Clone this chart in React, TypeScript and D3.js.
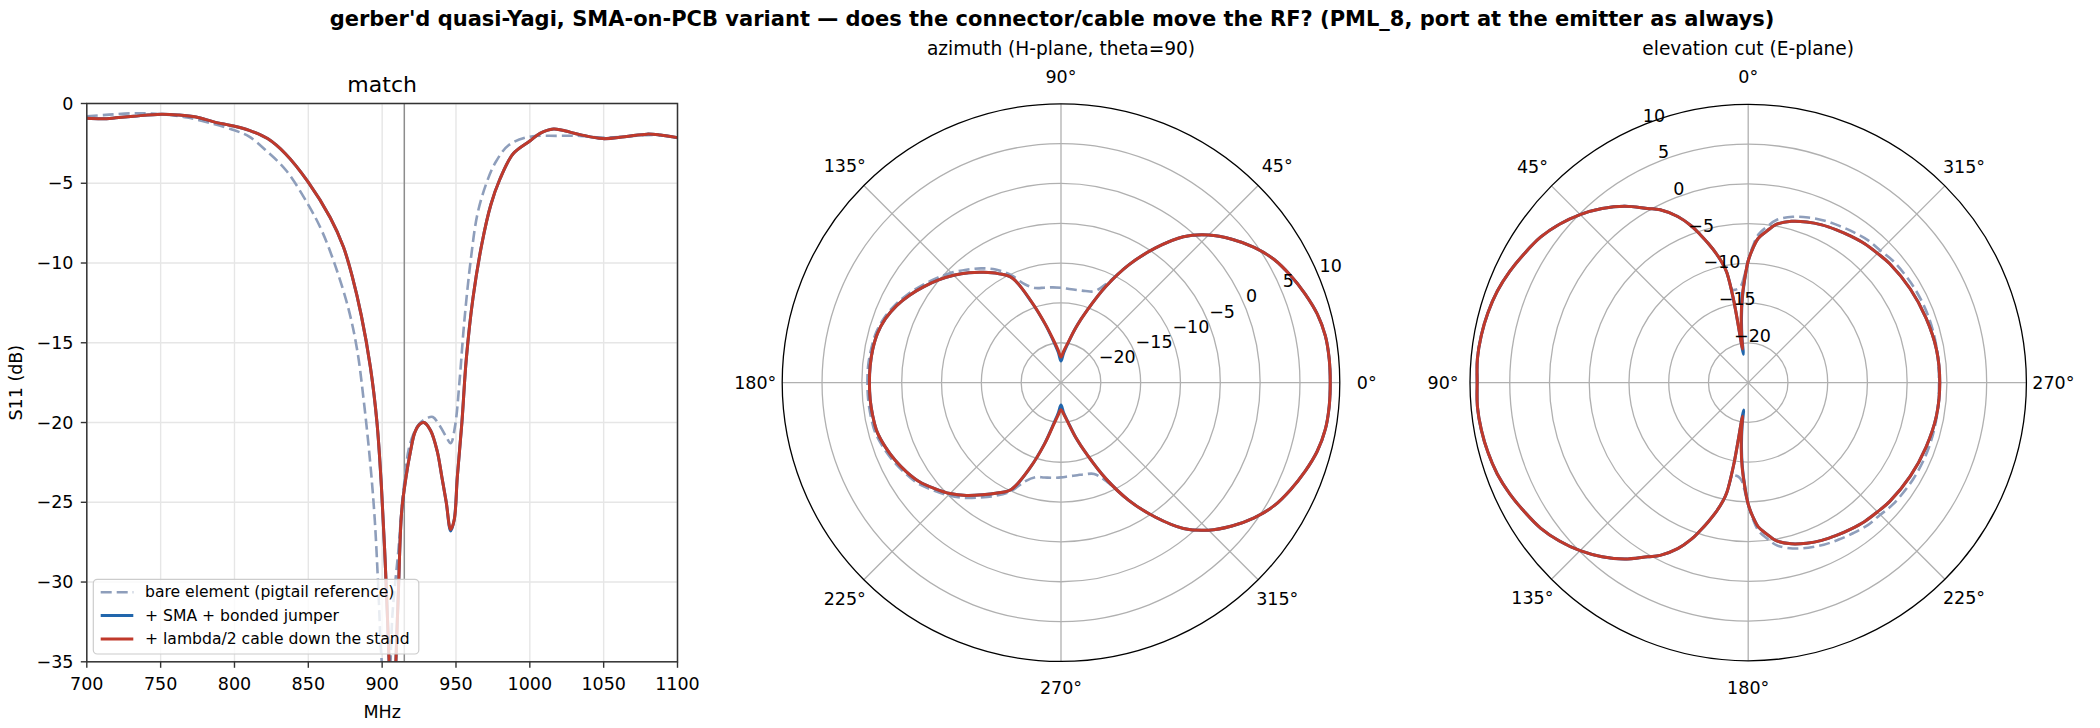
import React from "react";
import * as d3 from "d3";

const W = 2100;
const H = 728;

// ---------------- data ----------------
const FREQ_BARE = [700, 715, 732, 750, 768, 786, 800, 810, 822, 835, 850, 859, 868, 877, 883, 887.5, 892, 895, 897.5, 899.5, 902.5, 905, 907, 911, 914.7, 919, 925, 931, 934.3, 939, 943.4, 946.4, 949.4, 952.5, 955.5, 960, 964.6, 970.6, 976.7, 985.8, 1000, 1019, 1034, 1049, 1064, 1079, 1090, 1100];
const S11_BARE = [-0.8, -0.7, -0.61, -0.67, -0.88, -1.28, -1.68, -2.08, -3.0, -4.2, -6.35, -7.95, -10.1, -12.8, -15.4, -18.6, -22.6, -26.1, -30.6, -34.7, -37.5, -36, -32, -28, -24, -21.3, -20.1, -19.7, -19.65, -20.2, -20.9, -21.3, -20.2, -17.3, -13.8, -9.8, -6.9, -5.0, -3.7, -2.6, -2.08, -2.03, -2.03, -2.14, -2.08, -1.98, -2.0, -2.16];

const FREQ_SMA = [700, 710.6, 719.7, 731.7, 750.5, 762, 774, 786, 799.5, 810, 822.4, 834.5, 849.7, 864.8, 873.8, 879.9, 885.9, 892, 896.5, 899.5, 901.7, 903.5, 904.7, 907, 909.3, 911, 913.2, 916.2, 919.2, 922.2, 925.5, 928.3, 932.8, 937.3, 940.4, 943.4, 946.4, 948.8, 950.9, 954, 957, 961.5, 967.6, 973.6, 979.7, 988.7, 1000, 1006.9, 1016, 1022, 1034, 1049.2, 1064.3, 1079.4, 1088.5, 1100];
const S11_SMA = [-0.93, -0.96, -0.9, -0.8, -0.67, -0.72, -0.85, -1.15, -1.41, -1.68, -2.2, -3.15, -4.9, -7.15, -9.0, -10.9, -13.3, -16.5, -20, -24, -28, -32, -35, -42, -35, -30.6, -25.6, -23.4, -21.8, -20.6, -20.1, -20.0, -20.5, -21.8, -23.4, -25.0, -26.8, -26.1, -23.4, -20, -16, -12.2, -8.76, -6.35, -4.75, -3.15, -2.35, -1.87, -1.6, -1.68, -1.95, -2.2, -2.08, -1.92, -1.98, -2.14];

const FREQ_CABLE = [700, 710.6, 719.7, 731.7, 750.5, 762, 774, 786, 799.5, 810, 822.4, 834.5, 849.7, 864.8, 873.8, 879.9, 885.9, 892, 896.5, 899.5, 901.7, 903.5, 904.7, 907, 909.3, 911, 913.2, 916.2, 919.2, 922.2, 925.5, 928.3, 932.8, 937.3, 940.4, 943.4, 946.4, 948.8, 950.9, 954, 957, 961.5, 967.6, 973.6, 979.7, 988.7, 1000, 1006.9, 1016, 1022, 1034, 1049.2, 1064.3, 1079.4, 1088.5, 1100];
const S11_CABLE = [-0.93, -0.96, -0.9, -0.8, -0.67, -0.72, -0.85, -1.15, -1.41, -1.68, -2.2, -3.15, -4.9, -7.15, -9.0, -10.9, -13.3, -16.5, -20, -24, -28, -32, -35, -41, -35, -30.6, -25.6, -23.4, -21.8, -20.6, -20.1, -20.0, -20.5, -21.8, -23.4, -25.0, -26.7, -26.1, -23.4, -20, -16, -12.2, -8.76, -6.35, -4.75, -3.15, -2.35, -1.87, -1.6, -1.68, -1.95, -2.2, -2.08, -1.92, -1.98, -2.14];

const MARKER_MHZ = 915;
const X_TICKS = [700, 750, 800, 850, 900, 950, 1000, 1050, 1100];
const Y_TICKS = [0, -5, -10, -15, -20, -25, -30, -35];

const LEGEND_LABELS = ["bare element (pigtail reference)", "+ SMA + bonded jumper", "+ lambda/2 cable down the stand"];

// azimuth (deg, CCW from east)
const AZ_ANG = [0, 5, 10, 15, 20, 25, 30, 35, 40, 45, 50, 55, 60, 65, 70, 75, 80, 85, 90, 95, 100, 105, 110, 115, 120, 125, 130, 135, 140, 145, 150, 155, 160, 165, 170, 175, 180, 185, 190, 195, 200, 205, 210, 215, 220, 225, 230, 235, 240, 245, 250, 255, 260, 265, 270, 275, 280, 285, 290, 295, 300, 305, 310, 315, 320, 325, 330, 335, 340, 345, 350, 355];
const AZ_BARE = [8.8, 8.8, 8.7, 8.3, 7.6, 6.8, 5.9, 4.6, 3.0, 1.2, -1.1, -4.4, -7.9, -11.2, -12.8, -13.1, -13.2, -13.2, -13.1, -13.0, -12.9, -12.7, -11.9, -10.1, -8.6, -7.5, -6.5, -5.5, -4.6, -3.7, -2.8, -2.0, -1.35, -0.95, -0.8, -0.7, -0.7, -0.7, -0.75, -0.85, -1.25, -1.75, -2.35, -3.0, -4.0, -5.0, -6.1, -7.4, -8.6, -9.9, -11.8, -12.7, -12.9, -13.0, -13.1, -13.2, -13.2, -13.1, -12.8, -11.2, -7.9, -4.4, -1.1, 1.2, 3.0, 4.6, 5.9, 6.8, 7.6, 8.3, 8.7, 8.8];
const AZ_SMA = [8.8, 8.8, 8.7, 8.3, 7.6, 6.8, 5.9, 4.6, 3.0, 1.2, -1.1, -4.4, -7.9, -11.7, -15.3, -17.9, -20.0, -21.3, -22.3, -21.2, -19.8, -17.5, -14.3, -10.5, -9.2, -8.1, -7.0, -5.95, -4.95, -4.0, -3.05, -2.2, -1.55, -1.15, -1.0, -0.95, -0.95, -0.95, -1.0, -1.1, -1.5, -2.0, -2.6, -3.3, -4.3, -5.3, -6.5, -7.8, -9.0, -10.2, -13.6, -17.1, -19.8, -21.2, -22.2, -21.2, -20.0, -17.9, -15.3, -11.7, -7.9, -4.4, -1.1, 1.2, 3.0, 4.6, 5.9, 6.8, 7.6, 8.3, 8.7, 8.8];
const AZ_CABLE = [8.8, 8.8, 8.7, 8.3, 7.6, 6.8, 5.9, 4.6, 3.0, 1.2, -1.1, -4.4, -7.9, -11.7, -15.3, -17.9, -19.9, -21.0, -21.8, -20.9, -19.6, -17.4, -14.2, -10.5, -9.2, -8.1, -7.0, -5.95, -4.95, -4.0, -3.05, -2.2, -1.55, -1.15, -1.0, -0.95, -0.95, -0.95, -1.0, -1.1, -1.5, -2.0, -2.6, -3.3, -4.3, -5.3, -6.5, -7.8, -9.0, -10.2, -13.6, -17.0, -19.6, -20.9, -21.6, -21.0, -19.9, -17.9, -15.3, -11.7, -7.9, -4.4, -1.1, 1.2, 3.0, 4.6, 5.9, 6.8, 7.6, 8.3, 8.7, 8.8];

// elevation cut (deg, CCW from north)
const EL_ANG = [0, 2, 4, 6, 8, 9.5, 10, 11, 12, 14, 16, 18, 20, 23, 27, 30, 35, 40, 45, 50, 55, 60, 65, 70, 75, 80, 85, 90, 95, 100, 105, 110, 115, 120, 125, 130, 135, 140, 145, 150, 153, 157, 160, 162, 164, 166, 168, 169, 170, 170.5, 172, 174, 176, 178, 180, 182, 184, 187, 190, 195, 200, 205, 210, 215, 220, 225, 230, 240, 250, 260, 270, 280, 290, 300, 310, 315, 320, 325, 330, 335, 340, 345, 350, 353, 356, 358];
const EL_BARE = [-9.6, -11.5, -12.7, -13.1, -13.2, -13.2, -13.1, -10.9, -9.8, -8.2, -6.8, -5.4, -4.0, -2.3, -0.6, 0.3, 2.1, 3.6, 4.9, 6.0, 6.9, 7.5, 8.1, 8.6, 8.9, 9.1, 9.2, 9.1, 9.2, 9.1, 8.9, 8.6, 8.1, 7.5, 6.9, 6.0, 4.9, 3.6, 2.1, 0.3, -0.6, -2.3, -4.0, -5.4, -6.8, -8.2, -9.8, -10.9, -13.1, -13.2, -13.2, -13.1, -12.7, -11.5, -9.6, -7.8, -6.3, -5.2, -4.2, -3.4, -2.9, -2.5, -2.2, -1.9, -1.6, -1.5, -1.2, -0.95, -0.85, -0.9, -1.0, -0.9, -0.85, -0.95, -1.2, -1.5, -1.6, -1.9, -2.2, -2.5, -2.9, -3.4, -4.2, -5.2, -6.3, -7.8];
const EL_SMA = [-9.7, -12.1, -14.4, -16.9, -19.5, -21.4, -14.6, -10.9, -9.8, -8.2, -6.8, -5.4, -4.0, -2.3, -0.6, 0.3, 2.1, 3.6, 4.9, 6.0, 6.9, 7.5, 8.1, 8.6, 8.9, 9.1, 9.2, 9.1, 9.2, 9.1, 8.9, 8.6, 8.1, 7.5, 6.9, 6.0, 4.9, 3.6, 2.1, 0.3, -0.6, -2.3, -4.0, -5.4, -6.8, -8.2, -9.8, -10.9, -14.6, -21.5, -19.5, -16.9, -14.4, -12.1, -9.7, -8.1, -6.8, -5.8, -4.8, -4.0, -3.5, -3.1, -2.8, -2.5, -2.2, -2.0, -1.75, -1.45, -1.2, -0.95, -0.9, -0.95, -1.2, -1.45, -1.75, -2.0, -2.2, -2.5, -2.8, -3.1, -3.5, -4.0, -4.8, -5.8, -6.8, -8.1];
const EL_CABLE = [-9.7, -12.0, -14.2, -16.6, -19.0, -20.7, -14.5, -10.9, -9.8, -8.2, -6.8, -5.4, -4.0, -2.3, -0.6, 0.3, 2.1, 3.6, 4.9, 6.0, 6.9, 7.5, 8.1, 8.6, 8.9, 9.1, 9.2, 9.1, 9.2, 9.1, 8.9, 8.6, 8.1, 7.5, 6.9, 6.0, 4.9, 3.6, 2.1, 0.3, -0.6, -2.3, -4.0, -5.4, -6.8, -8.2, -9.8, -10.9, -14.5, -20.7, -19.0, -16.6, -14.2, -12.0, -9.7, -8.1, -6.8, -5.8, -4.8, -4.0, -3.5, -3.1, -2.8, -2.5, -2.2, -2.0, -1.75, -1.45, -1.2, -0.95, -0.9, -0.95, -1.2, -1.45, -1.75, -2.0, -2.2, -2.5, -2.8, -3.1, -3.5, -4.0, -4.8, -5.8, -6.8, -8.1];

const THETA_TICKS = [0, 45, 90, 135, 180, 225, 270, 315];
const R_TICKS = [-20, -15, -10, -5, 0, 5, 10];
const R_MIN = -25;
const R_MAX = 10;

// ---------------- style ----------------
const FONT = "'DejaVu Sans', sans-serif";
const C_BARE = "#8e9ebb";
const C_SMA = "#2166ac";
const C_CABLE = "#c0392b";
const DASH = "11,5";

const fmt = (v: number) => (v < 0 ? "\u2212" + Math.abs(v) : String(v));

// ---------------- S11 panel ----------------
function S11Panel() {
  const X0 = 86.8, X1 = 677.5, Y0 = 103.5, Y1 = 661.8;
  const x = d3.scaleLinear().domain([700, 1100]).range([X0, X1]);
  const y = d3.scaleLinear().domain([-35, 0]).range([Y1, Y0]);
  const line = (fs: number[], vs: number[]) =>
    d3.line<number>()
      .x((_, i) => x(fs[i]))
      .y((v) => y(v))
      .curve(d3.curveCatmullRom.alpha(0.5))(vs) || "";

  const series = [
    { f: FREQ_BARE, v: S11_BARE, c: C_BARE, dash: DASH, w: 2.6 },
    { f: FREQ_SMA, v: S11_SMA, c: C_SMA, dash: undefined, w: 3 },
    { f: FREQ_CABLE, v: S11_CABLE, c: C_CABLE, dash: undefined, w: 3 },
  ];
  const legendY = [592.3, 615.5, 639];
  return (
    <g fontFamily={FONT}>
      <defs>
        <clipPath id="s11clip">
          <rect x={X0} y={Y0} width={X1 - X0} height={Y1 - Y0} />
        </clipPath>
      </defs>
      {X_TICKS.map((t) => (
        <line key={"gx" + t} x1={x(t)} x2={x(t)} y1={Y0} y2={Y1} stroke="#e6e6e6" strokeWidth={1.4} />
      ))}
      {Y_TICKS.map((t) => (
        <line key={"gy" + t} x1={X0} x2={X1} y1={y(t)} y2={y(t)} stroke="#e6e6e6" strokeWidth={1.4} />
      ))}
      <line x1={x(MARKER_MHZ)} x2={x(MARKER_MHZ)} y1={Y0} y2={Y1} stroke="#8c8c8c" strokeWidth={1.5} />
      <g clipPath="url(#s11clip)">
        {series.map((s, i) => (
          <path key={i} d={line(s.f, s.v)} fill="none" stroke={s.c} strokeWidth={s.w}
            strokeDasharray={s.dash} strokeLinejoin="round" />
        ))}
      </g>
      <rect x={X0} y={Y0} width={X1 - X0} height={Y1 - Y0} fill="none" stroke="#333" strokeWidth={1.5} />
      {X_TICKS.map((t) => (
        <g key={"tx" + t}>
          <line x1={x(t)} x2={x(t)} y1={Y1} y2={Y1 + 6} stroke="#333" strokeWidth={1.4} />
          <text x={x(t)} y={689.5} fontSize={17.5} textAnchor="middle" fill="#000">{t}</text>
        </g>
      ))}
      {Y_TICKS.map((t) => (
        <g key={"ty" + t}>
          <line x1={X0 - 6} x2={X0} y1={y(t)} y2={y(t)} stroke="#333" strokeWidth={1.4} />
          <text x={73.5} y={y(t)} fontSize={17.5} textAnchor="end" dominantBaseline="central" fill="#000">{fmt(t)}</text>
        </g>
      ))}
      <text x={(X0 + X1) / 2} y={718} fontSize={17.5} textAnchor="middle">MHz</text>
      <text transform={`translate(22,${(Y0 + Y1) / 2}) rotate(-90)`} fontSize={17.5} textAnchor="middle">S11 (dB)</text>
      <text x={(X0 + X1) / 2} y={92} fontSize={22} textAnchor="middle">match</text>
      <g>
        <rect x={93.3} y={579.3} width={325.5} height={74.7} rx={4} fill="#fff" fillOpacity={0.8} stroke="#cccccc" strokeWidth={1.2} />
        {LEGEND_LABELS.map((lab, i) => (
          <g key={lab}>
            <line x1={100.7} x2={133.3} y1={legendY[i]} y2={legendY[i]} stroke={series[i].c}
              strokeWidth={series[i].w} strokeDasharray={series[i].dash} />
            <text x={145} y={legendY[i]} fontSize={15.6} dominantBaseline="central">{lab}</text>
          </g>
        ))}
      </g>
    </g>
  );
}

// ---------------- polar panel ----------------
type PolarSeries = { ang: number[]; val: number[]; color: string; dash?: string; w: number };

function PolarPanel(props: { cx: number; cy: number; R: number; zero: "E" | "N"; title: string; series: PolarSeries[] }) {
  const { cx, cy, R, zero, title, series } = props;
  const r = d3.scaleLinear().domain([R_MIN, R_MAX]).range([0, R]).clamp(true);
  const toA = (deg: number) => (zero === "E" ? Math.PI / 2 - (deg * Math.PI) / 180 : -(deg * Math.PI) / 180);
  const pt = (deg: number, rad: number): [number, number] => {
    const a = toA(deg);
    return [rad * Math.sin(a), -rad * Math.cos(a)];
  };
  const path = (s: PolarSeries) =>
    d3.lineRadial<number>()
      .angle((_, i) => toA(s.ang[i]))
      .radius((v) => r(v))
      .curve(d3.curveCatmullRomClosed.alpha(0.5))(s.val) || "";

  return (
    <g fontFamily={FONT}>
      <text x={cx} y={55} fontSize={18.6} textAnchor="middle">{title}</text>
      <g transform={`translate(${cx},${cy})`}>
        {R_TICKS.slice(0, -1).map((t) => (
          <circle key={"rc" + t} r={r(t)} fill="none" stroke="#b0b0b0" strokeWidth={1.3} />
        ))}
        {THETA_TICKS.map((t) => {
          const [px, py] = pt(t, R);
          return <line key={"sp" + t} x1={0} y1={0} x2={px} y2={py} stroke="#b0b0b0" strokeWidth={1.3} />;
        })}
        {series.map((s, i) => (
          <path key={i} d={path(s)} fill="none" stroke={s.color} strokeWidth={s.w} strokeDasharray={s.dash} strokeLinejoin="round" />
        ))}
        <circle r={R} fill="none" stroke="#000" strokeWidth={1.3} />
        {THETA_TICKS.map((t) => {
          const [px, py] = pt(t, R + 27);
          return (
            <text key={"tl" + t} x={px} y={py} fontSize={17.5} textAnchor="middle" dominantBaseline="central">{t + "\u00b0"}</text>
          );
        })}
        {R_TICKS.map((t) => {
          const [px, py] = pt(22.5, r(t));
          return (
            <text key={"rl" + t} x={px + 1} y={py - 4} fontSize={17.5} textAnchor="start">{fmt(t)}</text>
          );
        })}
      </g>
    </g>
  );
}

export default function App() {
  const azSeries: PolarSeries[] = [
    { ang: AZ_ANG, val: AZ_BARE, color: C_BARE, dash: DASH, w: 2.6 },
    { ang: AZ_ANG, val: AZ_SMA, color: C_SMA, w: 3 },
    { ang: AZ_ANG, val: AZ_CABLE, color: C_CABLE, w: 3 },
  ];
  const elSeries: PolarSeries[] = [
    { ang: EL_ANG, val: EL_BARE, color: C_BARE, dash: DASH, w: 2.6 },
    { ang: EL_ANG, val: EL_SMA, color: C_SMA, w: 3 },
    { ang: EL_ANG, val: EL_CABLE, color: C_CABLE, w: 3 },
  ];
  return (
    <div style={{ position: "absolute", left: 0, top: 0 }}>
      <svg width={W} height={H} viewBox={`0 0 ${W} ${H}`} style={{ display: "block", background: "#fff" }}>
        <rect width={W} height={H} fill="#fff" />
        <text x={1052} y={26} fontFamily={FONT} fontWeight="bold" fontSize={21} textAnchor="middle">
          gerber'd quasi-Yagi, SMA-on-PCB variant — does the connector/cable move the RF? (PML_8, port at the emitter as always)
        </text>
        <S11Panel />
        <PolarPanel cx={1061} cy={382.6} R={278.8} zero="E" title="azimuth (H-plane, theta=90)" series={azSeries} />
        <PolarPanel cx={1748.2} cy={382.6} R={278.2} zero="N" title="elevation cut (E-plane)" series={elSeries} />
      </svg>
    </div>
  );
}
